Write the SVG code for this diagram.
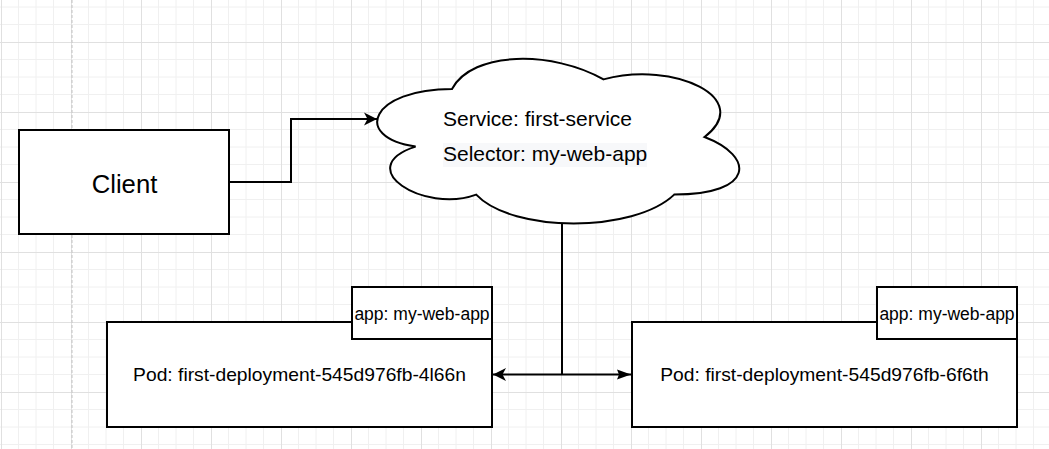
<svg xmlns="http://www.w3.org/2000/svg" width="1049" height="449" viewBox="0 0 1049 449">
  <style>
    .shape { fill: #ffffff; stroke: #000000; stroke-width: 2; }
    .edge { fill: none; stroke: #000000; stroke-width: 2; }
    .t { font-family: "Liberation Sans", Arial, sans-serif; fill: #000000; }
  </style>
  <defs>
    <pattern id="grid" patternUnits="userSpaceOnUse" x="1" y="42" width="70" height="70">
      <path d="M17.5 0V70M35 0V70M52.5 0V70M0 17.5H70M0 35H70M0 52.5H70" stroke="#f0f0f0" stroke-width="1" fill="none"/>
      <path d="M0.5 0V70M0 0.5H70" stroke="#e0e0e0" stroke-width="1" fill="none"/>
    </pattern>
    <marker id="classic" viewBox="0 0 14 14" refX="13" refY="7" markerWidth="14" markerHeight="14" markerUnits="userSpaceOnUse" orient="auto-start-reverse">
      <path d="M0 0.5L13 7L0 13.5L3.5 7Z" fill="#000000"/>
    </marker>
    <marker id="block" viewBox="0 0 14 12" refX="14" refY="6" markerWidth="14" markerHeight="12" markerUnits="userSpaceOnUse" orient="auto">
      <path d="M0 1L14 6L0 11L2 6Z" fill="#000000"/>
    </marker>
  </defs>
  <rect x="0" y="0" width="1049" height="449" fill="#ffffff"/>
  <rect x="0" y="0" width="1049" height="449" fill="url(#grid)"/>
  <line x1="72" y1="0" x2="72" y2="449" stroke="#c4c4c4" stroke-width="1" stroke-dasharray="3 2"/>

  <g id="edges">
    <path class="edge" d="M230 182H291V119H377" marker-end="url(#classic)"/>
    <path class="edge" d="M562 224V374.5"/>
    <path class="edge" d="M493 374.5H631" marker-start="url(#classic)" marker-end="url(#block)"/>
  </g>

  <g id="client">
    <rect class="shape" x="19" y="130" width="210" height="104"/>
    <text class="t" x="124.5" y="192.5" font-size="25.7" text-anchor="middle">Client</text>
  </g>

  <g id="service">
    <path class="shape" d="M452 89C371.2 89 351 137 415.6 146.6C351 167.7 423.7 213.8 476.2 194.6C512.6 233 633.8 233 674.2 194.6C755 194.6 755 156.2 704.5 137C755 98.6 674.2 60.2 603.5 79.4C553 50.6 472.2 50.6 452 89Z"/>
    <rect x="443" y="143" width="204" height="24" fill="#f7f8fa"/>
    <text class="t" x="443" y="126" font-size="21">Service: first-service</text>
    <text class="t" x="443" y="160.5" font-size="21">Selector: my-web-app</text>
  </g>

  <g id="pod1">
    <rect class="shape" x="107" y="322" width="385" height="105"/>
    <rect class="shape" x="352" y="287" width="140" height="52"/>
    <text class="t" x="299.5" y="381" font-size="19.25" text-anchor="middle">Pod: first-deployment-545d976fb-4l66n</text>
    <text class="t" x="422" y="320" font-size="17.5" text-anchor="middle">app: my-web-app</text>
  </g>

  <g id="pod2">
    <rect class="shape" x="632" y="322" width="385" height="105"/>
    <rect class="shape" x="877" y="287" width="140" height="52"/>
    <text class="t" x="824.5" y="381" font-size="19.25" text-anchor="middle">Pod: first-deployment-545d976fb-6f6th</text>
    <text class="t" x="947" y="320" font-size="17.5" text-anchor="middle">app: my-web-app</text>
  </g>
</svg>
